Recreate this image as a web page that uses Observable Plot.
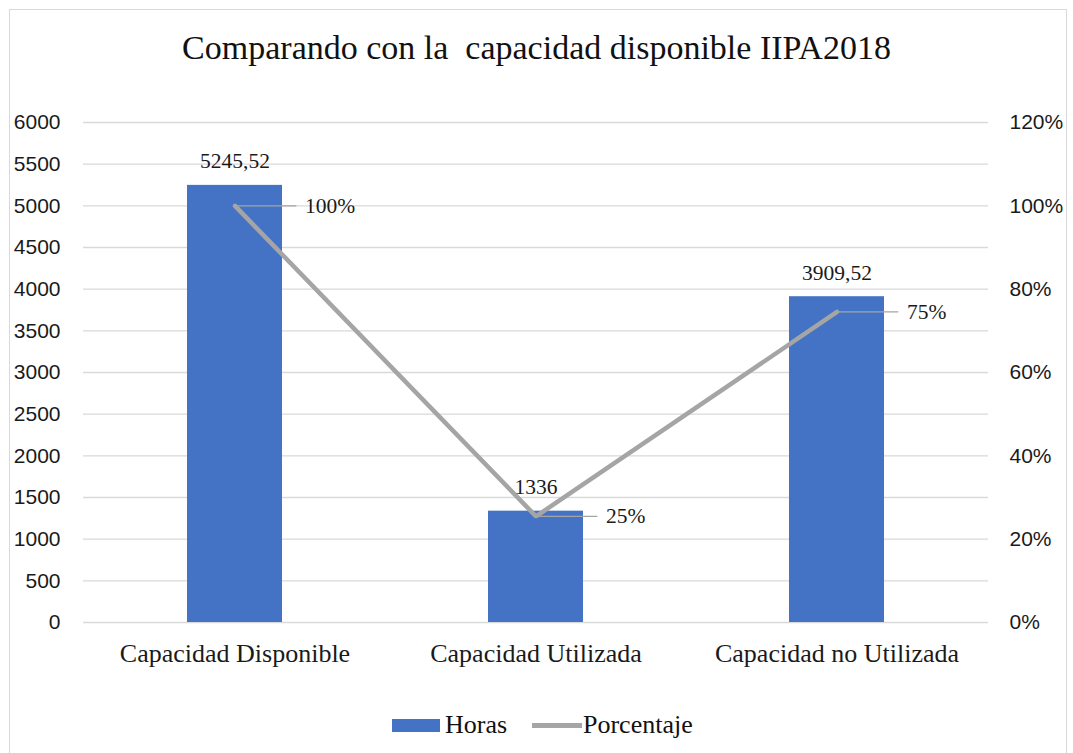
<!DOCTYPE html>
<html>
<head>
<meta charset="utf-8">
<script src="https://cdn.jsdelivr.net/npm/d3@7"></script>
<script src="https://cdn.jsdelivr.net/npm/@observablehq/plot@0.6"></script>
<style>
  html, body { margin: 0; padding: 0; background: #fff; }
  body { width: 1073px; height: 753px; position: relative; overflow: hidden; }
  #frame { position: absolute; left: 9px; top: 9px; width: 1058px; height: 780px; border: 1px solid #d9d9d9; box-sizing: border-box; }
  #title { position: absolute; left: 0; top: 28px; width: 1073px; text-align: center; font-family: "Liberation Serif", "Times New Roman", serif; font-size: 34px; line-height: 40px; color: #111; }
  #chart { position: absolute; left: 0; top: 100px; }
  #legend { position: absolute; top: 708px; left: 0; width: 1073px; height: 34px; font-family: "Liberation Serif", "Times New Roman", serif; font-size: 26px; color: #111; }
  .lg { position: absolute; top: 0; line-height: 34px; }
  .sw { position: absolute; }
</style>
</head>
<body>
<div id="frame"></div>
<div id="title">Comparando con la&nbsp; capacidad disponible IIPA2018</div>
<div id="chart"></div>
<div id="legend"></div>
<script>
// ---- data ----
const categories = ["Capacidad Disponible", "Capacidad Utilizada", "Capacidad no Utilizada"];
const horas = [5245.52, 1336, 3909.52];
const porcentaje = [1.00, 0.2547, 0.7453];
const leftTicks = [0, 500, 1000, 1500, 2000, 2500, 3000, 3500, 4000, 4500, 5000, 5500, 6000];
const rightTicks = [0, 20, 40, 60, 80, 100, 120]; // percent
const seriesNames = ["Horas", "Porcentaje"];

// ---- layout / style ----
const W = 1073, H = 580, mL = 83, mR = 85, mT = 22, mB = 58;
const pInner = 0.684, pOuter = 0.342;
const blue = "#4472c4", gray = "#a5a5a5", grid = "#d9d9d9", ink = "#1a1a1a";
const serif = "Liberation Serif, Times New Roman, serif";
const sans = "Liberation Sans, Arial, sans-serif";
const pctFactor = 5000; // 100% on the right axis corresponds to 5000 on the left
const step = (W - mL - mR) / (categories.length - pInner + 2 * pOuter);
const bw = step * (1 - pInner);
const leader = 62;

const data = categories.map((c, i) => ({cat: c, horas: horas[i], pct: porcentaje[i]}));
const fmtHoras = v => String(v).replace(".", ",");
const fmtPct = p => Math.round(p * 100) + "%";

const chart = Plot.plot({
  width: W, height: H,
  marginLeft: mL, marginRight: mR, marginTop: mT, marginBottom: mB,
  style: {background: "transparent", color: ink, overflow: "visible"},
  x: {domain: categories, paddingInner: pInner, paddingOuter: pOuter, label: null},
  y: {domain: [0, 6000], label: null},
  marks: [
    Plot.gridY(leftTicks, {stroke: grid, strokeOpacity: 1, strokeWidth: 1.3}),
    Plot.barY(data, {x: "cat", y: "horas", fill: blue}),
    Plot.line(data, {x: "cat", y: d => d.pct * pctFactor, stroke: gray, strokeWidth: 4.5, strokeLinejoin: "miter"}),
    Plot.tickY(data, {x: "cat", y: d => d.pct * pctFactor, stroke: gray, strokeWidth: 1.2, insetLeft: bw / 2, insetRight: bw / 2 - leader}),
    Plot.text(data, {x: "cat", y: "horas", text: d => fmtHoras(d.horas), dy: -24, fontSize: 21.5, fontFamily: serif, fill: ink}),
    Plot.text(data, {x: "cat", y: d => d.pct * pctFactor, text: d => fmtPct(d.pct), dx: 70, textAnchor: "start", fontSize: 21.5, fontFamily: serif, fill: ink}),
    Plot.axisY({anchor: "left", ticks: leftTicks, tickFormat: d => String(d), tickSize: 0, tickPadding: 23, fontSize: 21, fontFamily: sans, fill: ink, label: null}),
    Plot.axisY({anchor: "right", ticks: rightTicks.map(t => t / 100 * pctFactor), tickFormat: d => Math.round(d / pctFactor * 100) + "%", tickSize: 0, tickPadding: 21, fontSize: 21, fontFamily: sans, fill: ink, label: null}),
    Plot.axisX({anchor: "bottom", tickSize: 0, tickPadding: 21, fontSize: 26, fontFamily: serif, fill: ink, label: null})
  ]
});
document.getElementById("chart").appendChild(chart);

// ---- legend ----
const lg = document.getElementById("legend");
lg.innerHTML = `
  <div class="sw" style="left:392px; top:11px; width:48px; height:13px; background:${blue}"></div>
  <div class="lg" style="left:445px">${seriesNames[0]}</div>
  <div class="sw" style="left:532px; top:15px; width:50px; height:4.5px; background:${gray}"></div>
  <div class="lg" style="left:583px">${seriesNames[1]}</div>`;
</script>
</body>
</html>
